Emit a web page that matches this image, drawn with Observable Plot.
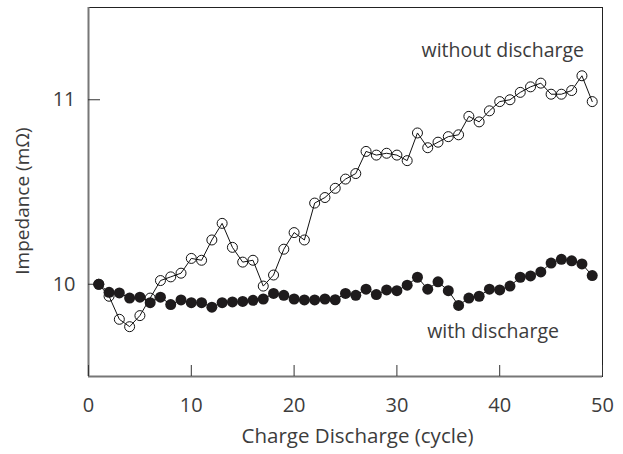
<!DOCTYPE html>
<html>
<head>
<meta charset="utf-8">
<script src="https://cdn.jsdelivr.net/npm/d3@7"></script>
<script src="https://cdn.jsdelivr.net/npm/@observablehq/plot@0.6"></script>
<style>
  html, body { margin: 0; padding: 0; background: #fff; }
  svg { display: block; }
</style>
</head>
<body>
<div id="chart"></div>
<script>
const cycles = d3.range(1, 50);
const withoutDischarge = [
  10.00, 9.935, 9.81, 9.77, 9.83, 9.925, 10.02, 10.04, 10.06, 10.14,
  10.13, 10.24, 10.33, 10.20, 10.12, 10.13, 9.99, 10.05, 10.19, 10.28,
  10.24, 10.44, 10.47, 10.52, 10.57, 10.60, 10.72, 10.70, 10.71, 10.70,
  10.67, 10.82, 10.74, 10.77, 10.80, 10.81, 10.91, 10.88, 10.94, 10.99,
  11.00, 11.04, 11.07, 11.09, 11.03, 11.03, 11.05, 11.13, 10.99
];
const withDischarge = [
  10.00, 9.956, 9.953, 9.925, 9.93, 9.90, 9.93, 9.89, 9.915, 9.90,
  9.90, 9.876, 9.90, 9.904, 9.907, 9.913, 9.92, 9.95, 9.94, 9.92,
  9.915, 9.915, 9.92, 9.916, 9.95, 9.94, 9.973, 9.944, 9.969, 9.965,
  9.995, 10.038, 9.973, 10.013, 9.965, 9.885, 9.925, 9.935, 9.973, 9.969,
  9.99, 10.038, 10.045, 10.067, 10.115, 10.135, 10.127, 10.11, 10.047
];
const xTicks = [0, 10, 20, 30, 40, 50];
const yTicks = [10, 11];
const seriesLabels = ["without discharge", "with discharge"];
const labelPos = [{x: 40.3, y: 11.266}, {x: 39.35, y: 9.745}];

const openData = cycles.map((c, i) => ({x: c, y: withoutDischarge[i]}));
const filledData = cycles.map((c, i) => ({x: c, y: withDischarge[i]}));
const labels = seriesLabels.map((t, i) => ({text: t, ...labelPos[i]}));

const W = 623, H = 454, mL = 88, mR = 21, mT = 7, mB = 78;
const frameW = W - mL - mR, frameH = H - mT - mB;
const textColor = "#3c3c3c";
const chart = Plot.plot({
  width: W,
  height: H,
  marginLeft: mL,
  marginRight: mR,
  marginTop: mT,
  marginBottom: mB,
  style: {fontFamily: "'Open Sans', sans-serif", color: textColor, background: "#fff"},
  x: {domain: [0, 50]},
  y: {domain: [9.5, 11.5]},
  marks: [
    Plot.frame({stroke: "#222", strokeWidth: 1}),
    Plot.ruleX([0], {stroke: "#777", strokeWidth: 2}),
    Plot.ruleY([9.5], {stroke: "#777", strokeWidth: 2}),
    Plot.ruleX(xTicks, {insetTop: frameH - 11, stroke: "#333", strokeWidth: 1}),
    Plot.ruleY(yTicks, {insetRight: frameW - 12, stroke: "#333", strokeWidth: 1}),
    Plot.axisX({ticks: xTicks, tickSize: 0, tickPadding: 21, fontSize: 20, label: null}),
    Plot.axisY({ticks: yTicks, tickSize: 0, tickPadding: 13, fontSize: 20, label: null, tickFormat: "d"}),
    Plot.line(openData, {x: "x", y: "y", stroke: "#111", strokeWidth: 1}),
    Plot.dot(openData, {x: "x", y: "y", r: 5, stroke: "#111", strokeWidth: 1, fill: "none"}),
    Plot.line(filledData, {x: "x", y: "y", stroke: "#111", strokeWidth: 1}),
    Plot.dot(filledData, {x: "x", y: "y", r: 5.5, fill: "#1e1b1c", stroke: "none"}),
    Plot.text(labels, {x: "x", y: "y", text: "text", fontSize: 19.5, fill: textColor}),
    Plot.text(["Charge Discharge (cycle)"], {frameAnchor: "bottom", dx: 12, dy: 66, fontSize: 20.5, fill: textColor}),
    Plot.text(["Impedance (mΩ)"], {frameAnchor: "left", dx: -66, dy: 9, rotate: -90, textAnchor: "middle", fontSize: 19, fill: textColor})
  ]
});
document.getElementById("chart").appendChild(chart);
</script>
</body>
</html>
